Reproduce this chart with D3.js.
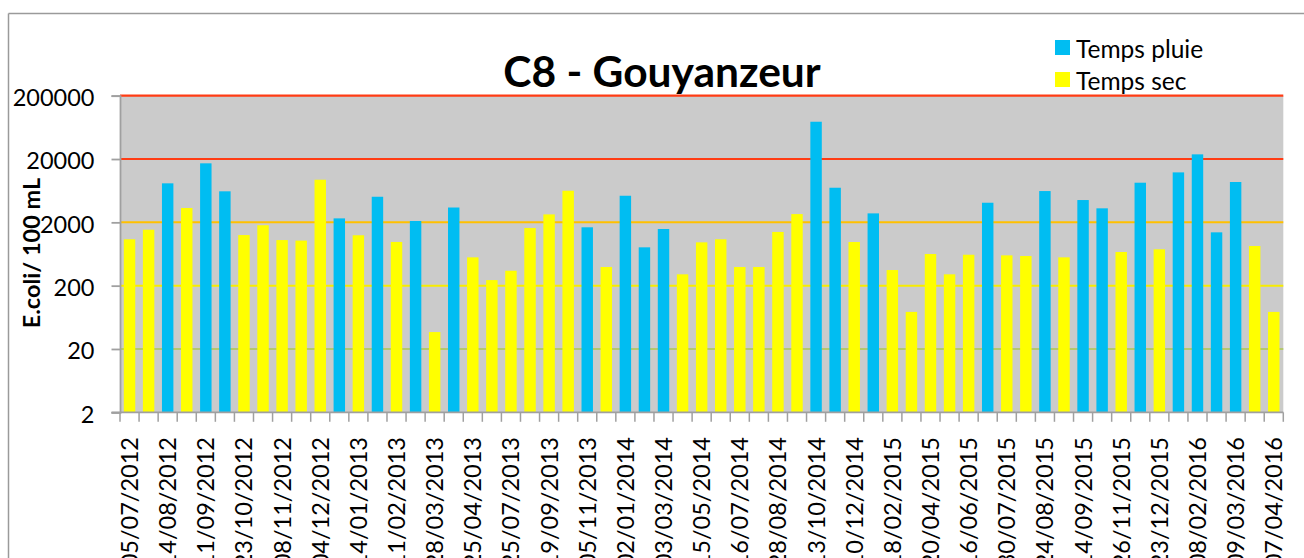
<!DOCTYPE html>
<html>
<head>
<meta charset="utf-8">
<title>C8 - Gouyanzeur</title>
<style>
body { margin: 0; background: #fff; }
svg { display: block; }
text { font-family: Lato, 'Open Sans', sans-serif; fill: #000; }
.title { font-size: 42.5px; font-weight: bold; }
.tick-label { font-size: 23.5px; }
.axis-title { font-size: 23.5px; font-weight: bold; }
.legend-label { font-size: 24.5px; }
</style>
</head>
<body>
<svg width="1304" height="558"></svg>
<script src="https://cdn.jsdelivr.net/npm/d3@7"></script>
<script>
// dates shown on the axis (every other sample is labelled)
var tickLabels = ["05/07/2012","14/08/2012","11/09/2012","23/10/2012","08/11/2012","04/12/2012",
  "14/01/2013","11/02/2013","28/03/2013","25/04/2013","25/07/2013","19/09/2013","05/11/2013",
  "02/01/2014","03/03/2014","15/05/2014","16/07/2014","28/08/2014","13/10/2014","10/12/2014",
  "18/02/2015","20/04/2015","16/06/2015","30/07/2015","24/08/2015","14/09/2015","26/11/2015",
  "23/12/2015","08/02/2016","09/03/2016","07/04/2016"];

// E.coli / 100 mL, one value per sample (61 samples)
var tempsPluie = [null,null,8260,null,17100,6180,null,null,null,null,
  null,2310,null,5070,null,2100,null,3430,null,null,
  null,null,null,null,1670,null,5260,806,1570,null,
  null,null,null,null,null,null,77600,7040,null,2770,
  null,null,null,null,null,4080,null,null,6240,null,
  4500,3330,null,8450,null,12300,23700,1390,8670,null,
  null];
var tempsSec = [1080,1530,null,3370,null,null,1260,1800,1050,1030,
  9420,null,1250,null,980,null,37,null,560,245,
  344,1630,2670,6310,null,394,null,null,null,302,
  966,1080,394,394,1410,2700,null,null,978,null,
  353,77,632,302,616,null,602,588,null,560,
  null,null,680,null,750,null,null,null,null,846,
  77];

var yTicks = [2, 20, 200, 2000, 20000, 200000];

var svg = d3.select("svg");
var plotLeft = 120, plotRight = 1283.3, plotTop = 95.7, plotBottom = 412.3;

var idx = d3.range(tempsSec.length);
var x = d3.scaleBand().domain(idx).range([plotLeft, plotRight]).paddingInner(0.4).paddingOuter(0.2);
var y = d3.scaleLog().domain([2, 200000]).range([plotBottom, plotTop]);

var gridColor = {2: "#a0a0a0", 20: "#b5c86e", 200: "#f7ec00", 2000: "#ffc000", 20000: "#ff3c14", 200000: "#ff3c14"};

// outer frame of the chart
svg.append("line").attr("x1", 8.5).attr("x2", 1304).attr("y1", 13.5).attr("y2", 13.5)
  .attr("stroke", "#9a9a9a").attr("stroke-width", 1.5);
svg.append("line").attr("x1", 8.5).attr("x2", 8.5).attr("y1", 13.5).attr("y2", 558)
  .attr("stroke", "#9a9a9a").attr("stroke-width", 1.5);

// plot background
svg.append("rect").attr("x", plotLeft).attr("y", plotTop)
  .attr("width", plotRight - plotLeft).attr("height", plotBottom - plotTop).attr("fill", "#cbcbcb");

// gridlines
svg.append("g").selectAll("line").data(yTicks.slice(1)).enter().append("line")
  .attr("x1", plotLeft).attr("x2", plotRight)
  .attr("y1", function(d) { return y(d); }).attr("y2", function(d) { return y(d); })
  .attr("stroke", function(d) { return gridColor[d]; })
  .attr("stroke-width", function(d) { return d >= 20000 ? 2.2 : 2; });

// bars
function bars(data, color) {
  svg.append("g").selectAll("rect")
    .data(idx.filter(function(i) { return data[i] != null; }))
    .enter().append("rect")
    .attr("x", function(i) { return x(i); })
    .attr("width", x.bandwidth())
    .attr("y", function(i) { return y(data[i]); })
    .attr("height", function(i) { return plotBottom - y(data[i]); })
    .attr("fill", color);
}
bars(tempsSec, "#ffff00");
bars(tempsPluie, "#00bdf2");

// y axis
var yAxis = d3.axisLeft(y).tickValues(yTicks).tickSize(8.5).tickPadding(17)
  .tickFormat(d3.format("d"));
var gy = svg.append("g").attr("transform", "translate(" + plotLeft + ",0)").call(yAxis);
gy.select(".domain").attr("stroke", "#a0a0a0").attr("stroke-width", 1.8);
gy.selectAll(".tick line").attr("stroke", "#a0a0a0").attr("stroke-width", 1.8);
gy.attr("font-family", null).attr("font-size", null);
gy.selectAll(".tick text").attr("class", "tick-label").attr("dy", "0.42em");

// x axis: ticks between samples
var step = x.step();
var bounds = d3.range(idx.length + 1).map(function(i) { return plotLeft + i * step; });
svg.append("line").attr("x1", plotLeft - 8.5).attr("x2", plotRight).attr("y1", plotBottom).attr("y2", plotBottom)
  .attr("stroke", "#a0a0a0").attr("stroke-width", 1.8);
svg.append("g").selectAll("line").data(bounds).enter().append("line")
  .attr("x1", function(d) { return d; }).attr("x2", function(d) { return d; })
  .attr("y1", plotBottom).attr("y2", plotBottom + 9.5)
  .attr("stroke", "#a0a0a0").attr("stroke-width", 1.5);

svg.append("g").selectAll("text").data(tickLabels).enter().append("text")
  .attr("class", "tick-label")
  .attr("text-anchor", "end")
  .attr("dy", "0.36em")
  .attr("transform", function(d, i) {
    var cx = x(i * 2) + x.bandwidth() / 2;
    return "translate(" + cx + ",437) rotate(-90)";
  })
  .text(function(d) { return d; });

// axis title
svg.append("text").attr("class", "axis-title")
  .attr("text-anchor", "middle")
  .attr("transform", "translate(40,253) rotate(-90)")
  .text("E.coli/ 100 mL");

// title
svg.append("text").attr("class", "title")
  .attr("x", 662).attr("y", 86.5).attr("text-anchor", "middle")
  .text("C8 - Gouyanzeur");

// legend
var legendItems = [["Temps pluie", "#00bdf2"], ["Temps sec", "#ffff00"]];
var lg = svg.append("g").selectAll("g").data(legendItems).enter().append("g")
  .attr("transform", function(d, i) { return "translate(1055," + (40 + i * 32) + ")"; });
lg.append("rect").attr("width", 15).attr("height", 15).attr("fill", function(d) { return d[1]; });
lg.append("text").attr("class", "legend-label").attr("x", 21).attr("y", 17.5)
  .text(function(d) { return d[0]; });
</script>
</body>
</html>
